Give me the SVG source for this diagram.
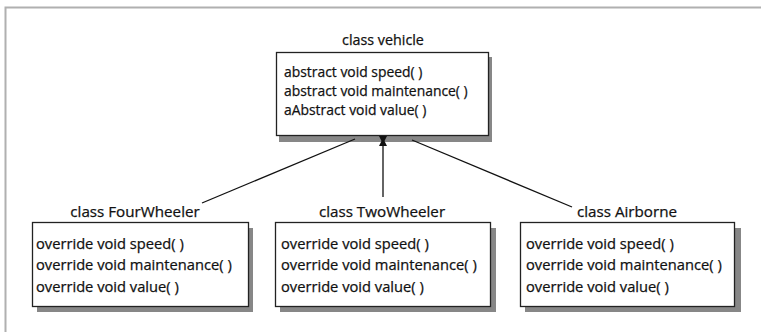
<svg xmlns="http://www.w3.org/2000/svg" width="761" height="332" viewBox="0 0 761 332">
<style>
.title{font-family:"Open Sans","Liberation Sans",sans-serif;font-size:14.3px;fill:#111;text-anchor:middle;stroke:#111;stroke-width:0.25}
.t2{font-size:15.2px}
.m{font-family:"Open Sans","Liberation Sans",sans-serif;font-size:13.9px;fill:#111;stroke:#111;stroke-width:0.25}
.m2{font-family:"Open Sans","Liberation Sans",sans-serif;font-size:14.7px;fill:#111;stroke:#111;stroke-width:0.25}
.box{fill:#fff;stroke:#222;stroke-width:1.3}
.shadow{fill:#878787}
.conn{stroke:#111;stroke-width:1.3;fill:none}
</style>
<defs>
<marker id="bow" viewBox="-10 -5 10 10" refX="0" refY="0" markerWidth="10" markerHeight="10" markerUnits="userSpaceOnUse" orient="auto">
<polygon points="-10,-4 -5,-1.5 0,-4 0,4 -5,1.5 -10,4" fill="#111"/>
</marker>
</defs>
<rect width="761" height="332" fill="#fff"/>
<polyline points="5.5,332 5.5,7.5 761,7.5" fill="none" stroke="#b0b0b0" stroke-width="2"/>
<g id="vehicle">
<text class="title" x="383" y="45">class vehicle</text>
<rect class="shadow" x="279" y="57" width="213" height="85"/>
<rect class="box" x="276.5" y="52.5" width="212" height="83"/>
<text class="m" x="284" y="77">abstract void speed( )</text>
<text class="m" x="284" y="96">abstract void maintenance( )</text>
<text class="m" x="284" y="115">aAbstract void value( )</text>
</g>
<g id="fourwheeler">
<text class="title t2" x="135" y="217">class FourWheeler</text>
<rect class="shadow" x="37" y="228" width="216" height="84"/>
<rect class="box" x="32.5" y="222.5" width="216" height="84"/>
<text class="m2" x="36" y="249">override void speed( )</text>
<text class="m2" x="36" y="270">override void maintenance( )</text>
<text class="m2" x="36" y="292">override void value( )</text>
</g>
<g id="twowheeler">
<text class="title t2" x="382" y="217">class TwoWheeler</text>
<rect class="shadow" x="280" y="228" width="216" height="84"/>
<rect class="box" x="275.5" y="222.5" width="215" height="84"/>
<text class="m2" x="281" y="249">override void speed( )</text>
<text class="m2" x="281" y="270">override void maintenance( )</text>
<text class="m2" x="281" y="292">override void value( )</text>
</g>
<g id="airborne">
<text class="title t2" x="627" y="217">class Airborne</text>
<rect class="shadow" x="525" y="228" width="216" height="84"/>
<rect class="box" x="520.5" y="222.5" width="214" height="84"/>
<text class="m2" x="526" y="249">override void speed( )</text>
<text class="m2" x="526" y="270">override void maintenance( )</text>
<text class="m2" x="526" y="292">override void value( )</text>
</g>
<g id="connectors">
<line class="conn" x1="355" y1="139" x2="202" y2="203"/>
<line class="conn" x1="383" y1="197" x2="383" y2="136" marker-end="url(#bow)"/>
<line class="conn" x1="412" y1="140" x2="572" y2="207"/>
</g>
</svg>
